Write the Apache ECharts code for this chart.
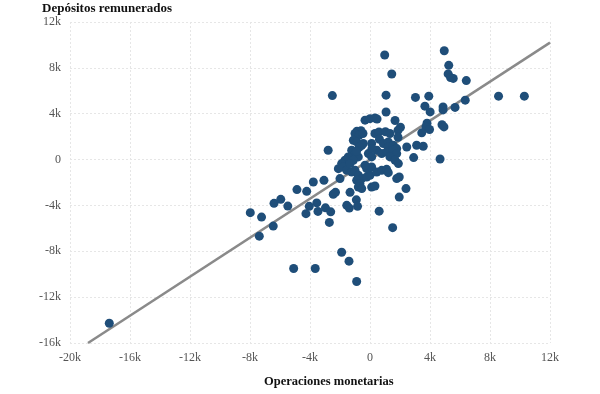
<!DOCTYPE html>
<html>
<head>
<meta charset="utf-8">
<script src="https://cdn.jsdelivr.net/npm/echarts@6/dist/echarts.min.js"></script>
<style>
  html, body { margin: 0; padding: 0; background: #fff; }
</style>
</head>
<body>
<div id="chart" style="width: 600px; height: 394px;"></div>
<script>
  // Operaciones monetarias (x) y Depósitos remunerados (y)
  const opMonetarias = [
    980, 1450, -2510, 1070, 4950, 5250, 5210, 5370, 5550, 6420,
    3030, 3920, 6350, 8570, 10290, 1070, 3660, 4010, 4870, 4870,
    5670, 1670, -330, 0, 330, 470, 2030, 1870, 3800, 3730,
    3970, 4800, 4930, 3450, -870, -600, -1000, -730, -470, 330,
    600, 1030, 1330, 1870, -1110, -890, -450, 110, 630, 890,
    1220, 1220, 1550, 1780, -2790, 2450, 3110, 3550, 2910, 4670,
    -1220, -1000, -1450, -780, -1110, -1670, -1890, 450, 780, 1110,
    1550, 1780, 1330, 1670, 1890, -110, 110, -550, -710, -890,
    130, -2110, -1780, -1550, -1220, -1000, -780, -550, -890, -670,
    -780, -550, -220, 0, 110, 330, -220, 110, 450, 780,
    1110, 1220, 1780, 1950, 2400, 1950, -1330, -2000, -3780, -3070,
    -4220, -4870, -2300, -2450, -1330, -330, -4050, -3550, -3470, -2970,
    -2620, -4270, -2710, -1550, -1380, -910, -830, 610, 1510, -6400,
    -5950, -5480, -7980, -7230, -7380, -6450, -1890, -1400, -5090, -3650,
    -890, -17380
  ];
  const depRemunerados = [
    9120, 7460, 5580, 5620, 9490, 8220, 7470, 7150, 7080, 6890,
    5420, 5530, 5180, 5530, 5530, 4150, 4660, 4160, 4590, 4330,
    4550, 3410, 3440, 3570, 3630, 3540, 2820, 2560, 3170, 2850,
    2620, 3040, 2850, 2330, 2470, 2520, 2270, 2120, 2270, 2270,
    2410, 2430, 2270, 1950, 1690, 1540, 1400, 1400, 1770, 1400,
    1540, 1100, 1250, 960, 810, 1100, 1250, 1160, 170, 50,
    810, 520, 230, 230, -60, -60, -350, 810, 520, 660,
    810, 520, 230, -60, -350, 520, 230, 1250, 1080, 750,
    960, -790, -650, -940, -1080, -940, -1370, -1660, -1810, -2100,
    -2400, -2530, -1520, -1370, -2400, -2310, -790, -650, -1080, -940,
    -850, -1140, -1660, -1520, -2530, -3270, -350, -1660, -1960, -1810,
    -2770, -2620, -2860, -3020, -2860, -500, -4080, -3780, -4520, -4210,
    -4560, -4720, -5480, -3990, -4230, -3510, -4080, -4500, -5940, -3820,
    -3470, -4060, -4630, -5020, -6680, -5800, -8080, -8860, -9500, -9500,
    -10640, -14280
  ];
  // recta de ajuste (extremos)
  const ajusteX = [-18800, 12000];
  const ajusteY = [-16000, 10200];

  const xTicks = { min: -20000, max: 12000, interval: 4000 };
  const yTicks = { min: -16000, max: 12000, interval: 4000 };

  const puntos = opMonetarias.map(function (x, i) { return [x, depRemunerados[i]]; });
  const recta = ajusteX.map(function (x, i) { return [x, ajusteY[i]]; });

  function fmtK(v) {
    return v === 0 ? '0' : (v / 1000) + 'k';
  }

  const fuente = '"Liberation Serif", "DejaVu Serif", serif';

  const option = {
    animation: false,
    backgroundColor: '#ffffff',
    title: [
      {
        text: 'Depósitos remunerados',
        left: 37,
        top: -3,
        textStyle: { fontFamily: fuente, fontSize: 13, fontWeight: 'bold', color: '#111' }
      },
      {
        text: 'Operaciones monetarias',
        left: 259,
        top: 370,
        textStyle: { fontFamily: fuente, fontSize: 12.5, fontWeight: 'bold', color: '#111' }
      }
    ],
    grid: { left: 70, right: 50, top: 22, bottom: 51 },
    xAxis: {
      type: 'value',
      min: xTicks.min,
      max: xTicks.max,
      interval: xTicks.interval,
      axisLine: { show: false },
      axisTick: { show: false },
      axisLabel: { formatter: fmtK, color: '#555', fontFamily: fuente, fontSize: 12, margin: 9 },
      splitLine: { lineStyle: { color: '#e6e6e6', type: [2, 2], width: 1 } }
    },
    yAxis: {
      type: 'value',
      min: yTicks.min,
      max: yTicks.max,
      interval: yTicks.interval,
      axisLine: { show: false },
      axisTick: { show: false },
      axisLabel: { formatter: fmtK, color: '#555', fontFamily: fuente, fontSize: 12, margin: 9 },
      splitLine: { lineStyle: { color: '#e6e6e6', type: [2, 2], width: 1 } }
    },
    series: [
      {
        name: 'ajuste',
        type: 'line',
        data: recta,
        symbol: 'none',
        z: 1,
        lineStyle: { color: '#8a8a8a', width: 2.5 }
      },
      {
        name: 'datos',
        type: 'scatter',
        data: puntos,
        symbolSize: 9,
        z: 2,
        itemStyle: { color: '#1f4e79', opacity: 1 }
      }
    ]
  };

  const myChart = echarts.init(document.getElementById('chart'));
  myChart.setOption(option);
</script>
</body>
</html>
